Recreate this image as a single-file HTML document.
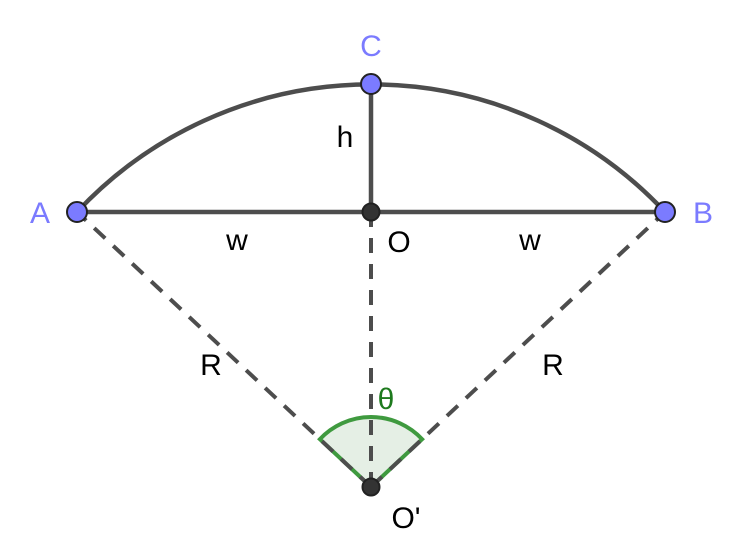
<!DOCTYPE html>
<html><head><meta charset="utf-8"><style>
html,body{margin:0;padding:0;background:#fff;width:747px;height:546px;overflow:hidden}
text{font-family:"Liberation Sans","DejaVu Sans",sans-serif}
</style></head><body>
<svg id="fig" width="747" height="546" viewBox="0 0 747 546" xmlns="http://www.w3.org/2000/svg">
<path id="arc" fill="none" stroke="#4d4d4d" stroke-width="4.5"/>
<path id="sector" fill="rgba(0,100,0,0.1)" stroke="#3f9a3f" stroke-width="4"/>
<line id="ra" stroke="#4d4d4d" stroke-width="4" stroke-dasharray="15,11"/>
<line id="rb" stroke="#4d4d4d" stroke-width="4" stroke-dasharray="15,11"/>
<line id="oo" stroke="#4d4d4d" stroke-width="4" stroke-dasharray="15,11"/>
<line id="ab" stroke="#4d4d4d" stroke-width="4.5"/>
<line id="oc" stroke="#4d4d4d" stroke-width="4.5"/>
<g id="pts"></g>
<text x="40" y="223" font-size="30" fill="#7b7bff" text-anchor="middle">A</text>
<text x="703" y="223" font-size="30" fill="#7b7bff" text-anchor="middle">B</text>
<text x="371" y="56" font-size="30" fill="#7b7bff" text-anchor="middle">C</text>
<text x="345" y="147" font-size="30" fill="#000" text-anchor="middle">h</text>
<text x="237" y="250" font-size="30" fill="#000" text-anchor="middle">w</text>
<text x="530" y="250" font-size="30" fill="#000" text-anchor="middle">w</text>
<text x="399" y="252" font-size="30" fill="#000" text-anchor="middle">O</text>
<text x="211" y="375" font-size="30" fill="#000" text-anchor="middle">R</text>
<text x="553" y="375" font-size="30" fill="#000" text-anchor="middle">R</text>
<text x="386" y="409" font-size="30" fill="#1e7a1e" text-anchor="middle">θ</text>
<text x="406" y="528" font-size="30" fill="#000" text-anchor="middle">O'</text>
</svg>
<script>
const pointNames=["A","B","C","O","Oprime"];
const pointX=[77,665,371,371,371];
const pointY=[212,212,84,212,487];
const pointFill=["#7b7bff","#7b7bff","#7b7bff","#333","#333"];
const P=n=>{const i=pointNames.indexOf(n);return [pointX[i],pointY[i]];};
const [ax,ay]=P("A"),[bx,by]=P("B"),[cx,cy]=P("C"),[ox,oy]=P("O"),[px,py]=P("Oprime");
const R=Math.hypot(ax-px,ay-py);
document.getElementById('arc').setAttribute('d',`M${ax},${ay} A${R},${R} 0 0 1 ${bx},${by}`);
const r=70;
const ua=[(ax-px)/R,(ay-py)/R],ub=[(bx-px)/Math.hypot(bx-px,by-py),(by-py)/Math.hypot(bx-px,by-py)];
document.getElementById('sector').setAttribute('d',`M${px},${py} L${px+ua[0]*r},${py+ua[1]*r} A${r},${r} 0 0 1 ${px+ub[0]*r},${py+ub[1]*r} Z`);
function ln(id,x1,y1,x2,y2){const e=document.getElementById(id);e.setAttribute('x1',x1);e.setAttribute('y1',y1);e.setAttribute('x2',x2);e.setAttribute('y2',y2);}
ln('ra',px,py,ax,ay);ln('rb',px,py,bx,by);ln('oo',px,py,ox,oy);ln('ab',ax,ay,bx,by);ln('oc',ox,oy,cx,cy);
const g=document.getElementById('pts');
pointNames.forEach((n,i)=>{
 const c=document.createElementNS('http://www.w3.org/2000/svg','circle');
 c.setAttribute('cx',pointX[i]);c.setAttribute('cy',pointY[i]);
 c.setAttribute('r',i<3?10:8.5);c.setAttribute('fill',pointFill[i]);
 c.setAttribute('stroke','#222');c.setAttribute('stroke-width','2');
 
 
 g.appendChild(c);
});
</script>
</body></html>
